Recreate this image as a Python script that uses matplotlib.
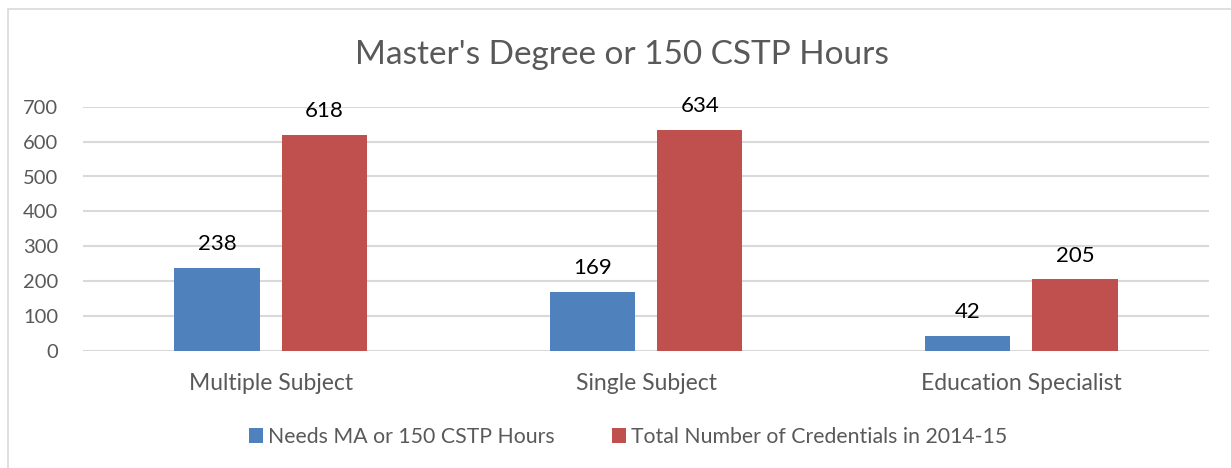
import numpy as np
import matplotlib
matplotlib.use("Agg")
import matplotlib.pyplot as plt
from matplotlib.patches import Rectangle

# ========= data =========
categories = ["Multiple Subject", "Single Subject", "Education Specialist"]
needs_ma = [238, 169, 42]
total_creds = [618, 634, 205]
series_names = ["Needs MA or 150 CSTP Hours", "Total Number of Credentials in 2014-15"]
title = "Master's Degree or 150 CSTP Hours"
yticks = [0, 100, 200, 300, 400, 500, 600, 700]
# ========================

BLUE = "#4F81BD"
RED = "#C0504D"
GREY = "#595959"
GRID = "#D9D9D9"

plt.rcParams["font.family"] = ["Lato", "DejaVu Sans"]

W, H = 1231, 468
fig = plt.figure(figsize=(W / 100, H / 100), dpi=100)

# outer chart frame (cropped on right/bottom)
fig.patches.append(Rectangle((8 / W, -0.2), 1.2, 1.2 - 9 / H, transform=fig.transFigure,
                             fill=False, edgecolor=GRID, linewidth=1.2))

ax = fig.add_axes([83 / W, (H - 351) / H, (1209 - 83) / W, (351 - 106.7) / H])

x = np.arange(len(categories))
bw = 0.227
off = 0.143
b1 = ax.bar(x - off, needs_ma, bw, color=BLUE, label=series_names[0], zorder=3)
b2 = ax.bar(x + off, total_creds, bw, color=RED, label=series_names[1], zorder=3)

for bars in (b1, b2):
    ax.bar_label(bars, padding=10, fontsize=16, color="black")

ax.set_xlim(-0.5, len(categories) - 0.5)
ax.set_ylim(0, 700)
ax.set_yticks(yticks)
ax.set_xticks(x)
ax.set_xticklabels(categories)
ax.tick_params(axis="y", length=0, labelsize=14.5, colors=GREY, pad=18)
ax.tick_params(axis="x", length=0, labelsize=16.5, colors=GREY, pad=16)
ax.grid(axis="y", color=GRID, linewidth=1.5, zorder=0)
for s in ax.spines.values():
    s.set_visible(False)

fig.text(622 / W, 1 - 55 / H, title, ha="center", va="center", fontsize=24, color=GREY)

leg = fig.legend(handles=[b1, b2], loc="center", bbox_to_anchor=(628 / W, 1 - 437 / H),
                 ncol=2, frameon=False, fontsize=15.3, handlelength=0.65, handleheight=0.65,
                 handletextpad=0.25, columnspacing=2.7, labelcolor=GREY)

fig.savefig("out.png", dpi=100)
